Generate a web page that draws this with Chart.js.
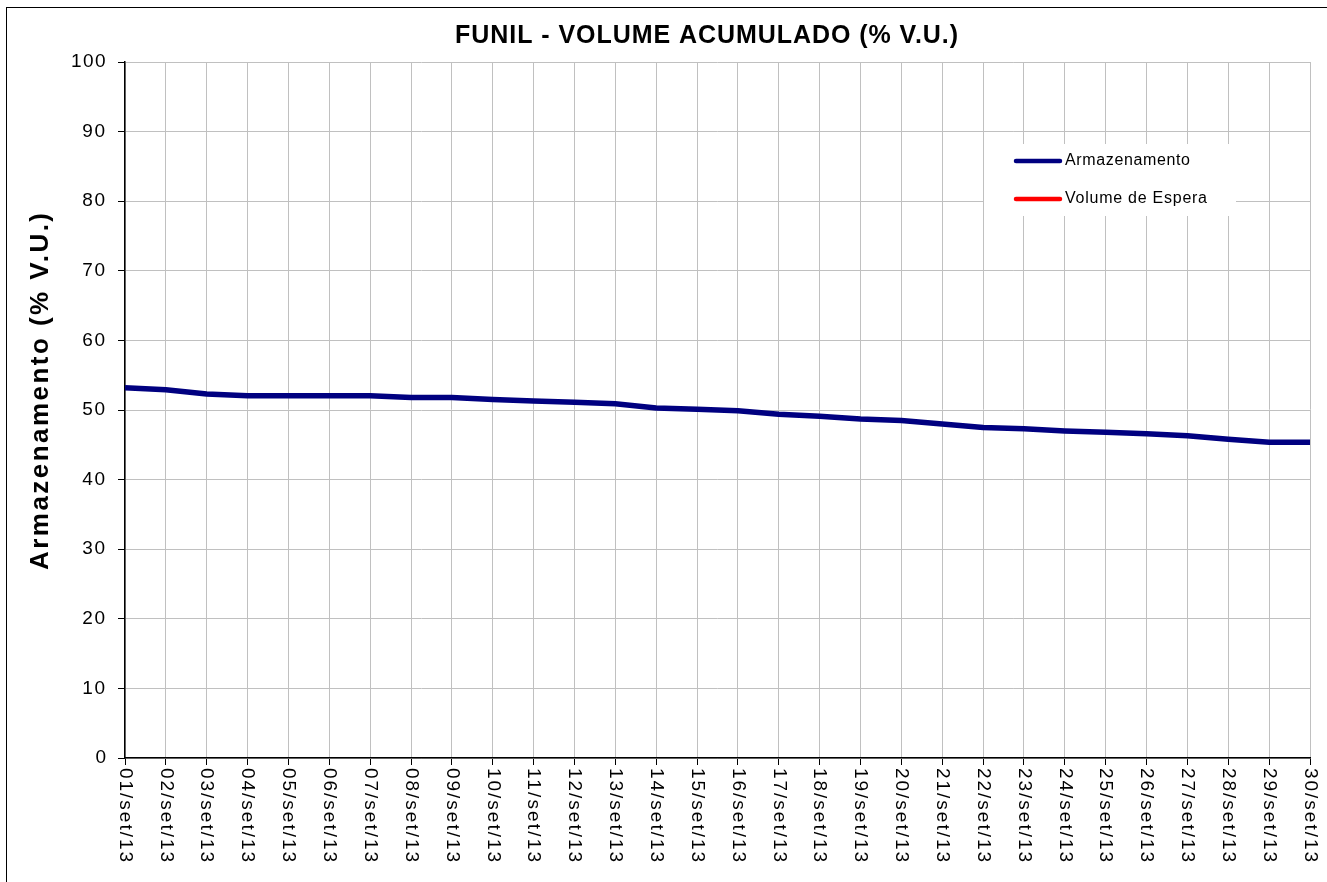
<!DOCTYPE html>
<html>
<head>
<meta charset="utf-8">
<script src="https://cdn.jsdelivr.net/npm/chart.js@4/dist/chart.umd.min.js"></script>
<style>
  html, body { margin: 0; padding: 0; background: #fff; }
  #wrap { position: relative; width: 1327px; height: 882px; }
  #frame { position: absolute; left: 6px; top: 7px; width: 1330px; height: 900px; border: 1.5px solid #000; box-sizing: border-box; pointer-events: none; }
</style>
</head>
<body>
<div id="wrap">
  <canvas id="c" width="1327" height="882"></canvas>
  <div id="frame"></div>
</div>
<script>
const chartTitle = 'FUNIL - VOLUME ACUMULADO (% V.U.)';
const yAxisTitle = 'Armazenamento (% V.U.)';
const categories = ['01/set/13','02/set/13','03/set/13','04/set/13','05/set/13','06/set/13','07/set/13','08/set/13','09/set/13','10/set/13',
  '11/set/13','12/set/13','13/set/13','14/set/13','15/set/13','16/set/13','17/set/13','18/set/13','19/set/13','20/set/13',
  '21/set/13','22/set/13','23/set/13','24/set/13','25/set/13','26/set/13','27/set/13','28/set/13','29/set/13','30/set/13'];
const armazenamento = [53.2, 52.9, 52.3, 52.05, 52.05, 52.05, 52.05, 51.8, 51.8, 51.5,
  51.3, 51.1, 50.9, 50.3, 50.1, 49.9, 49.4, 49.1, 48.7, 48.5,
  48.0, 47.5, 47.3, 47.0, 46.8, 46.6, 46.3, 45.8, 45.35, 45.35];
const volumeEspera = [];
const seriesNames = ['Armazenamento', 'Volume de Espera'];
const seriesColors = ['#000080', '#ff0000'];

const FONT = '"Liberation Sans", Arial, sans-serif';

function fitText(ctx, text, targetWidth) {
  ctx.letterSpacing = '0px';
  const w = ctx.measureText(text).width;
  const sp = Math.max(0, (targetWidth - w) / Math.max(1, text.length - 1));
  ctx.letterSpacing = sp.toFixed(2) + 'px';
  return ctx.measureText(text).width;
}

const decor = {
  id: 'decor',
  afterDraw(chart) {
    const ctx = chart.ctx;
    const xs = chart.scales.x;
    const ys = chart.scales.y;
    const area = chart.chartArea;
    ctx.save();
    ctx.fillStyle = '#000';
    // title
    ctx.font = 'bold 25px ' + FONT;
    ctx.textAlign = 'left';
    ctx.textBaseline = 'middle';
    fitText(ctx, chartTitle, 503);
    ctx.fillText(chartTitle, 455, 36);
    // y axis title
    ctx.save();
    ctx.font = 'bold 26px ' + FONT;
    fitText(ctx, yAxisTitle, 357);
    ctx.translate(41, 570);
    ctx.rotate(-Math.PI / 2);
    ctx.fillText(yAxisTitle, 0, 0);
    ctx.restore();
    // y tick labels
    ctx.font = '19px ' + FONT;
    ctx.textBaseline = 'middle';
    ys.ticks.forEach(t => {
      const lab = String(t.value);
      const tw = fitText(ctx, lab, lab.length * 11.5);
      ctx.fillText(lab, 107 - tw, ys.getPixelForValue(t.value));
    });
    // x labels rotated clockwise
    ctx.font = '19px ' + FONT;
    categories.forEach((lab, i) => {
      const px = xs.getPixelForTick(i);
      ctx.save();
      fitText(ctx, lab, 94);
      ctx.translate(px, area.bottom + 10);
      ctx.rotate(Math.PI / 2);
      ctx.fillText(lab, 0, 0);
      ctx.restore();
    });
    // legend
    ctx.letterSpacing = '0px';
    ctx.fillStyle = '#fff';
    ctx.fillRect(984, 144, 252, 72);
    const ys2 = [161, 199];
    ctx.lineWidth = 4.5;
    ctx.lineCap = 'round';
    ctx.font = '16px ' + FONT;
    ys2.forEach((yy, i) => {
      ctx.strokeStyle = seriesColors[i];
      ctx.beginPath();
      ctx.moveTo(1016, yy);
      ctx.lineTo(1060, yy);
      ctx.stroke();
      ctx.fillStyle = '#000';
      fitText(ctx, seriesNames[i], i === 0 ? 125 : 142);
      ctx.fillText(seriesNames[i], 1065, yy);
    });
    ctx.restore();
  }
};

new Chart(document.getElementById('c'), {
  type: 'line',
  data: {
    labels: categories,
    datasets: [
      { label: seriesNames[0], data: armazenamento, borderColor: seriesColors[0], backgroundColor: seriesColors[0], borderWidth: 5.5, pointRadius: 0, tension: 0, fill: false },
      { label: seriesNames[1], data: volumeEspera, borderColor: seriesColors[1], backgroundColor: seriesColors[1], borderWidth: 5.5, pointRadius: 0, tension: 0, fill: false }
    ]
  },
  options: {
    responsive: false,
    animation: false,
    devicePixelRatio: 1,
    layout: { padding: { left: 0, top: 62, right: 17, bottom: 0 } },
    plugins: { legend: { display: false }, title: { display: false }, tooltip: { enabled: false } },
    scales: {
      x: {
        type: 'category',
        offset: false,
        afterFit(s) { s.height = 124; },
        grid: { color: '#c0c0c0', lineWidth: 1, tickLength: 7, tickColor: '#000', drawTicks: true },
        border: { color: '#000', width: 1.5 },
        ticks: { display: false, autoSkip: false }
      },
      y: {
        min: 0, max: 100,
        afterFit(s) { s.width = 125; },
        grid: { color: '#c0c0c0', lineWidth: 1, tickLength: 7, tickColor: '#000' },
        border: { color: '#000', width: 1.5 },
        ticks: { stepSize: 10, display: false }
      }
    }
  },
  plugins: [decor]
});
</script>
</body>
</html>
